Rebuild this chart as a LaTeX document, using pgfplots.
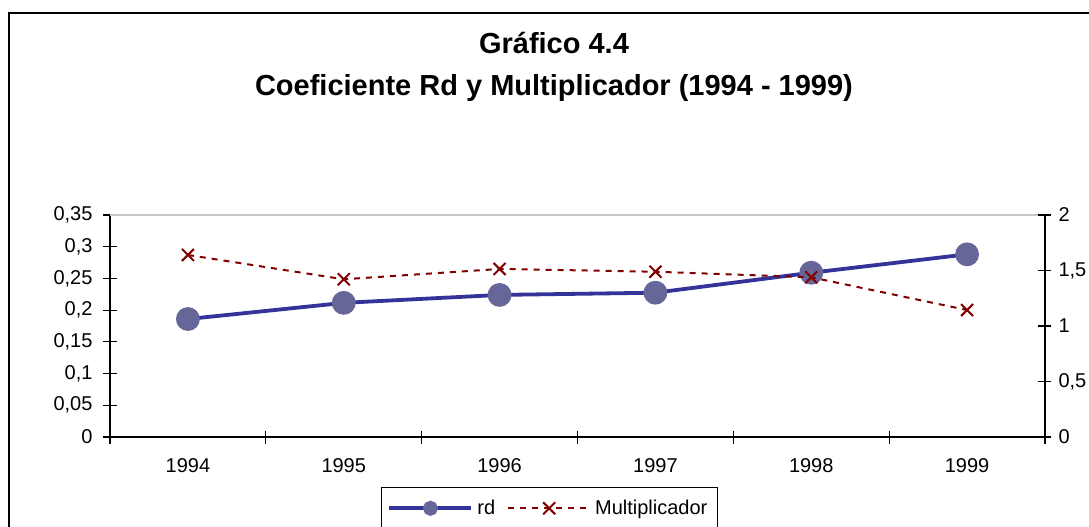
\documentclass[border=0pt]{standalone}
\usepackage{fontspec}
\setmainfont{Liberation Sans}
\usepackage{pgfplots}
\pgfplotsset{compat=1.18}
\definecolor{rdline}{RGB}{51,51,153}
\definecolor{rdmark}{RGB}{102,102,153}
\definecolor{mult}{RGB}{128,0,0}
\pgfplotsset{
  common/.style={
    at={(55pt,44.5pt)}, anchor=south west, scale only axis,
    width=467.5pt, height=111pt,
    xmin=-0.5, xmax=5.5,
    axis line style={-, black, line width=0.6pt},
    /pgf/number format/assume math mode=true,
    tick align=center, major tick length=6.5pt,
    tick style={black, line width=0.6pt},
    tick label style={font=\fontsize{10}{12}\selectfont},
    clip=false,
  }
}
\begin{document}
\begin{tikzpicture}
\path[use as bounding box] (0pt,0pt) rectangle (544.5pt,263pt);
\begin{scope}
\clip (0pt,0pt) rectangle (544.5pt,263pt);
\draw[line width=0.9pt] (4.5pt,256.5pt) rectangle (700pt,-50pt);
\node[font=\bfseries\fontsize{14.5}{17}\selectfont] at (277pt,241.5pt) {Gráfico 4.4};
\node[font=\bfseries\fontsize{14.5}{17}\selectfont] at (277pt,219pt) {Coeficiente Rd y Multiplicador (1994 - 1999)};
\begin{axis}[
  common,
  ymin=0, ymax=0.35,
  axis x line*=bottom, axis y line*=left,
  xtick={-0.5,0.5,1.5,2.5,3.5,4.5,5.5},
  x tick label as interval,
  xticklabels={1994,1995,1996,1997,1998,1999},
  xticklabel style={yshift=-4pt},
  ytick={0,0.05,0.1,0.15,0.2,0.25,0.3,0.35},
  yticklabel style={xshift=-2pt, /pgf/number format/.cd, fixed, use comma, precision=2},
  legend columns=2,
  legend cell align=left,
  legend style={at={(0.2898,-0.225)}, anchor=north west, draw=black, line width=0.6pt,
    font=\fontsize{10}{12}\selectfont, inner xsep=3pt, inner ysep=4pt,
    /tikz/every even column/.append style={column sep=4pt}},
  legend image code/.code={\draw[mark repeat=2,mark phase=2,#1] plot coordinates {(0pt,0pt) (20.5pt,0pt) (41pt,0pt)};},
]
\draw[gray!45, line width=0.6pt] (rel axis cs:0,1) -- (rel axis cs:1,1);
\addplot[rdline, line width=1.9pt, mark=*, mark size=5pt, mark options={fill=rdmark, draw=rdmark}, forget plot]
  coordinates {(0,0.186) (1,0.2115) (2,0.224) (3,0.2275) (4,0.259) (5,0.288)};
\addlegendimage{rdline, line width=1.9pt, mark=*, mark size=2.8pt, mark options={fill=rdmark, draw=rdmark}}
\addlegendentry{rd}
\addlegendimage{mult, dash pattern=on 3pt off 3pt, line width=1pt, mark=x, mark size=4.25pt, mark options={solid, line width=1pt}}
\addlegendentry{Multiplicador}
\end{axis}
\begin{axis}[
  common,
  ymin=0, ymax=2,
  axis x line=none, axis y line*=right,
  ytick={0,0.5,1,1.5,2},
  yticklabel style={/pgf/number format/.cd, use comma},
]
\addplot[mult, dash pattern=on 3pt off 3pt, line width=1pt, mark=x, mark size=4.25pt, mark options={solid, line width=1pt}]
  coordinates {(0,1.640) (1,1.421) (2,1.514) (3,1.489) (4,1.439) (5,1.144)};
\end{axis}
\end{scope}
\end{tikzpicture}
\end{document}
